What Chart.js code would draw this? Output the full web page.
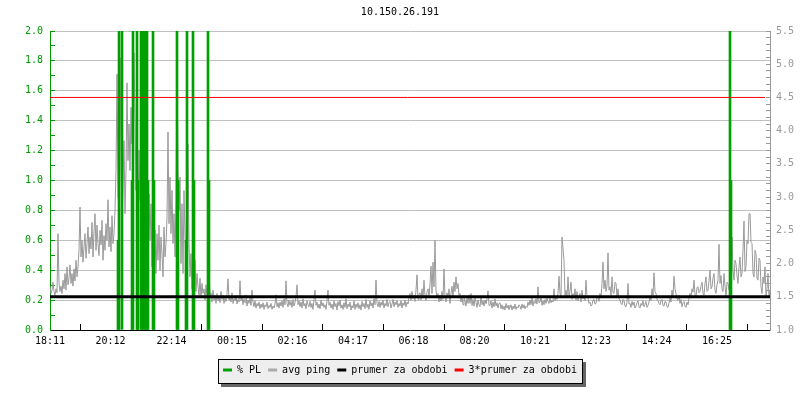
<!DOCTYPE html>
<html>
<head>
<meta charset="utf-8">
<script src="https://cdn.jsdelivr.net/npm/chart.js@4/dist/chart.umd.min.js"></script>
<style>
  html, body { margin: 0; padding: 0; background: #ffffff; }
  canvas { display: block; }
</style>
</head>
<body>
<canvas id="c" width="800" height="400"></canvas>
<script>
// ---------- data ----------
const chartTitle = '10.150.26.191';
const timeLabels = ['18:11','20:12','22:14','00:15','02:16','04:17','06:18','08:20','10:21','12:23','14:24','16:25'];
const spanMinutes = 1440;          // 24 h window starting at 18:11
const sampleStepMinutes = 2;       // one avg-ping sample every 2 minutes

// avg ping [ms], right axis
const avgPing = [
 1.65,1.55,1.60,1.72,1.58,1.52,1.62,1.56,2.45,1.70,
 1.58,1.66,1.55,1.75,1.62,1.85,1.60,1.95,1.68,1.78,
 1.98,1.70,1.85,1.66,1.92,1.74,2.05,1.80,1.95,2.20,
 2.85,2.10,2.35,2.02,2.25,2.45,2.08,2.30,2.55,2.15,
 2.40,2.22,2.62,2.10,2.48,2.75,2.20,2.58,2.30,2.12,
 2.50,2.28,2.65,2.05,2.42,2.20,2.60,2.35,2.96,2.25,
 2.55,2.18,2.72,2.30,2.45,2.80,3.40,4.85,3.00,2.90,
 5.10,3.60,2.60,3.20,3.85,2.75,3.40,4.72,3.55,4.10,
 3.40,4.35,3.80,4.50,5.17,4.20,3.10,4.45,2.80,3.70,
 2.95,3.55,2.40,3.20,5.00,3.00,2.60,3.45,2.20,3.05,
 2.35,2.90,1.95,2.65,2.20,2.50,1.85,2.45,2.05,2.58,
 1.90,2.40,2.15,1.80,2.55,2.10,2.30,2.70,3.98,2.60,
 3.30,2.45,3.10,2.30,2.75,2.10,2.95,5.00,3.40,2.80,
 3.30,2.00,2.90,1.85,3.10,2.40,2.05,3.40,3.80,2.30,
 1.80,2.15,1.62,1.95,1.70,2.05,1.58,1.85,1.65,1.52,
 1.78,1.48,1.70,1.55,1.62,1.45,1.68,1.50,1.58,1.93,
 1.48,1.56,1.42,1.60,1.45,1.52,1.40,1.55,1.44,1.50,
 1.41,1.58,1.46,1.52,1.40,1.48,1.43,1.55,1.77,1.45,
 1.50,1.42,1.56,1.40,1.47,1.44,1.52,1.39,1.46,1.42,
 1.74,1.44,1.50,1.38,1.47,1.41,1.53,1.36,1.45,1.40,
 1.48,1.37,1.60,1.42,1.35,1.44,1.33,1.40,1.36,1.42,
 1.32,1.39,1.34,1.41,1.31,1.38,1.35,1.42,1.32,1.37,
 1.34,1.40,1.31,1.36,1.33,1.39,1.53,1.35,1.41,1.33,
 1.42,1.36,1.44,1.34,1.47,1.38,1.74,1.40,1.35,1.45,
 1.37,1.43,1.34,1.46,1.36,1.41,1.50,1.68,1.38,1.44,
 1.35,1.42,1.33,1.47,1.36,1.40,1.32,1.44,1.38,1.35,
 1.43,1.34,1.40,1.31,1.46,1.60,1.37,1.42,1.33,1.39,
 1.32,1.45,1.36,1.41,1.34,1.38,1.31,1.44,1.60,1.37,
 1.42,1.33,1.39,1.31,1.44,1.35,1.40,1.30,1.43,1.36,
 1.45,1.33,1.38,1.31,1.41,1.34,1.47,1.32,1.39,1.35,
 1.42,1.30,1.37,1.33,1.44,1.31,1.39,1.34,1.41,1.32,
 1.38,1.30,1.43,1.35,1.40,1.32,1.46,1.34,1.39,1.31,
 1.44,1.36,1.41,1.33,1.47,1.38,1.75,1.40,1.35,1.43,
 1.34,1.42,1.37,1.45,1.33,1.40,1.36,1.46,1.35,1.41,
 1.43,1.33,1.39,1.46,1.35,1.42,1.38,1.44,1.34,1.40,
 1.36,1.44,1.33,1.41,1.37,1.45,1.35,1.42,1.39,1.50,
 1.55,1.44,1.58,1.47,1.52,1.43,1.60,1.83,1.46,1.54,
 1.56,1.45,1.62,1.48,1.75,1.50,1.44,1.58,1.62,1.49,
 1.70,1.96,1.55,2.02,1.65,2.35,1.60,1.48,1.55,1.42,
 1.52,1.44,1.58,1.46,1.92,1.50,1.42,1.56,1.48,1.62,
 1.40,1.55,1.66,1.50,1.72,1.58,1.80,1.62,1.70,1.52,
 1.55,1.42,1.50,1.38,1.52,1.44,1.36,1.48,1.40,1.53,
 1.40,1.55,1.37,1.46,1.36,1.48,1.42,1.34,1.45,1.38,
 1.35,1.50,1.38,1.44,1.36,1.45,1.40,1.47,1.59,1.37,
 1.37,1.44,1.33,1.42,1.35,1.47,1.36,1.41,1.33,1.40,
 1.41,1.32,1.38,1.31,1.36,1.30,1.40,1.33,1.37,1.31,
 1.34,1.38,1.30,1.36,1.32,1.39,1.31,1.35,1.33,1.38,
 1.36,1.31,1.39,1.33,1.38,1.32,1.36,1.34,1.42,1.37,
 1.45,1.38,1.48,1.36,1.43,1.40,1.47,1.39,1.65,1.41,
 1.42,1.50,1.37,1.44,1.38,1.46,1.40,1.48,1.43,1.40,
 1.48,1.41,1.45,1.42,1.62,1.44,1.50,1.46,1.55,1.81,
 1.55,1.48,2.40,2.23,2.05,1.52,1.60,1.48,1.80,1.50,
 1.58,1.72,1.46,1.55,1.48,1.62,1.45,1.58,1.44,1.52,
 1.55,1.42,1.60,1.47,1.52,1.44,1.75,1.50,1.48,1.40,
 1.42,1.36,1.38,1.45,1.46,1.39,1.40,1.48,1.50,1.43,
 1.55,1.48,1.70,2.02,1.62,1.75,1.58,1.66,2.16,1.60,
 1.65,1.52,1.80,1.56,1.55,1.72,1.70,1.50,1.62,1.47,
 1.45,1.40,1.38,1.46,1.44,1.36,1.35,1.42,1.70,1.39,
 1.40,1.34,1.43,1.37,1.42,1.33,1.36,1.41,1.44,1.35,
 1.33,1.40,1.37,1.44,1.35,1.39,1.43,1.34,1.37,1.42,
 1.50,1.44,1.62,1.52,1.86,1.58,1.55,1.46,1.45,1.40,
 1.38,1.44,1.46,1.37,1.36,1.43,1.42,1.35,1.34,1.40,
 1.48,1.42,1.60,1.50,1.81,1.62,1.55,1.47,1.45,1.52,
 1.40,1.46,1.35,1.41,1.43,1.36,1.34,1.42,1.38,1.47,
 1.55,1.48,1.62,1.57,1.75,1.53,1.50,1.64,1.65,1.56,
 1.58,1.66,1.72,1.55,1.52,1.70,1.80,1.58,1.60,1.74,
 1.90,1.62,1.65,1.78,1.85,1.60,1.55,1.68,1.75,2.29,
 1.70,1.82,1.62,1.58,1.85,1.66,1.50,1.72,1.70,1.60,
 1.60,1.78,2.40,1.90,1.75,2.05,2.00,1.82,1.70,1.95,
 2.10,1.80,1.85,2.20,2.64,1.88,1.95,2.35,2.30,2.75,
 2.75,2.32,2.30,1.85,1.80,2.20,2.15,1.78,1.75,2.08,
 2.05,1.65,1.55,1.80,1.70,1.95,1.50,1.62,1.85,1.48,
 1.60
];

// packet loss [%], left axis (minutes after 18:11)
const plMinutes = [136,138,144,164,166,174,176,182,184,186,190,192,194,196,206,208,254,256,272,274,286,288,316,318,1360,1362];
const plValues  = [0.6,2.0,2.0,1.0,2.0,2.0,1.0,2.0,0.4,2.0,2.0,0.4,2.0,1.0,2.0,1.0,2.0,1.0,0.6,2.0,2.0,1.0,2.0,1.0,2.0,1.0];

const prumer = 1.5;        // mean ping for period
const prumer3 = 4.5;       // 3 * mean
const redLineEndMinutes = 1430;

const legendNames = ['% PL', 'avg ping', 'prumer za obdobi', '3*prumer za obdobi'];

// ---------- helpers ----------
function labelToMinutes(lbl) {
  const [h, m] = lbl.split(':').map(Number);
  const [h0, m0] = timeLabels[0].split(':').map(Number);
  return ((h * 60 + m) - (h0 * 60 + m0) + 1440) % 1440;
}
const tickMinutes = timeLabels.map(labelToMinutes);

const FONT = { family: "'DejaVu Sans Mono', monospace", size: 10, weight: 'normal' };
const GREEN = '#009900';
const BAR_GREEN = '#00a000';
const GRAY = '#999999';
const GRID = '#c0c0c0';

const legendFrame = {
  id: 'legendFrame',
  beforeDraw(chart) {
    const lg = chart.legend;
    if (!lg || !lg.legendHitBoxes || !lg.legendHitBoxes.length) return;
    const hb = lg.legendHitBoxes;
    const first = hb[0], last = hb[hb.length - 1];
    const l = Math.round(first.left - 5), r = Math.round(last.left + last.width + 5);
    const t = Math.round(first.top - 6), b = Math.round(first.top + first.height + 8);
    const ctx = chart.ctx;
    ctx.save();
    ctx.fillStyle = '#666666';
    ctx.fillRect(l + 3, t + 3, r - l + 1, b - t + 1);
    ctx.fillStyle = '#eeeeee';
    ctx.fillRect(l, t, r - l, b - t);
    ctx.strokeStyle = '#000000';
    ctx.lineWidth = 1;
    ctx.strokeRect(l + 0.5, t + 0.5, r - l, b - t);
    ctx.restore();
  }
};

const datasets = [
  {
    type: 'bar',
    label: legendNames[0],
    data: plMinutes.map((m, i) => ({ x: m, y: plValues[i] })),
    xAxisID: 'x', yAxisID: 'y',
    backgroundColor: BAR_GREEN,
    borderWidth: 0,
    barThickness: 2,
    grouped: false,
    order: 2,
    legendColor: BAR_GREEN
  },
  {
    type: 'line',
    label: legendNames[1],
    data: avgPing.map((v, i) => ({ x: i * sampleStepMinutes, y: v })),
    xAxisID: 'x', yAxisID: 'y1',
    borderColor: GRAY,
    backgroundColor: GRAY,
    borderWidth: 1,
    pointRadius: 0,
    tension: 0,
    order: 3,
    legendColor: '#aaaaaa'
  },
  {
    type: 'line',
    label: legendNames[2],
    data: [{ x: 0, y: prumer }, { x: spanMinutes, y: prumer }],
    xAxisID: 'x', yAxisID: 'y1',
    borderColor: '#000000',
    backgroundColor: '#000000',
    borderWidth: 3,
    pointRadius: 0,
    order: 1,
    legendColor: '#000000'
  },
  {
    type: 'line',
    label: legendNames[3],
    data: [{ x: 0, y: prumer3 }, { x: redLineEndMinutes, y: prumer3 }],
    xAxisID: 'x', yAxisID: 'y1',
    borderColor: '#ff0000',
    backgroundColor: '#ff0000',
    borderWidth: 1,
    pointRadius: 0,
    order: 0,
    legendColor: '#ff0000'
  }
];

new Chart(document.getElementById('c'), {
  type: 'line',
  data: { datasets },
  plugins: [legendFrame],
  options: {
    responsive: false,
    animation: false,
    devicePixelRatio: 1,
    layout: { padding: { left: 0, right: 0, top: 0, bottom: 15 } },
    plugins: {
      title: {
        display: true,
        text: chartTitle,
        color: '#000000',
        font: FONT,
        padding: { top: 6, bottom: 13 }
      },
      legend: {
        display: true,
        position: 'bottom',
        labels: {
          font: FONT,
          color: '#000000',
          boxWidth: 9,
          boxHeight: 3,
          padding: 7,
          generateLabels: (chart) => chart.data.datasets.map((ds, i) => ({
            text: ds.label,
            fillStyle: ds.legendColor,
            strokeStyle: ds.legendColor,
            lineWidth: 0,
            hidden: false,
            datasetIndex: i,
            fontColor: '#000000'
          }))
        }
      },
      tooltip: { enabled: false }
    },
    scales: {
      x: {
        type: 'linear',
        position: 'bottom',
        min: 0,
        max: spanMinutes,
        offset: false,
        afterBuildTicks: (s) => { s.ticks = tickMinutes.map(v => ({ value: v })); },
        afterFit: (s) => { s.height = 28; },
        ticks: {
          autoSkip: false,
          maxRotation: 0,
          color: '#000000',
          font: FONT,
          padding: 11,
          callback: (v, i) => timeLabels[i]
        },
        grid: {
          drawOnChartArea: false,
          drawTicks: true,
          tickLength: -6,
          tickColor: '#000000',
          color: '#000000'
        },
        border: { color: '#000000', width: 1 }
      },
      y: {
        type: 'linear',
        position: 'left',
        min: 0,
        max: 2,
        afterFit: (s) => { s.width = 50; },
        ticks: {
          stepSize: 0.1,
          autoSkip: false,
          maxTicksLimit: 100,
          color: GREEN,
          font: FONT,
          padding: 12,
          callback: (v) => (Math.round(v * 10) % 2 === 0 ? Number(v).toFixed(1) : '')
        },
        grid: {
          drawTicks: true,
          tickLength: -5,
          tickColor: GREEN,
          color: (ctx) => {
            const k = Math.round(ctx.tick.value * 10);
            return (k % 2 === 0 && k !== 0) ? GRID : 'rgba(0,0,0,0)';
          }
        },
        border: { color: GREEN, width: 1 }
      },
      y1: {
        type: 'linear',
        position: 'right',
        min: 1,
        max: 5.5,
        afterFit: (s) => { s.width = 30; },
        ticks: {
          stepSize: 0.1,
          autoSkip: false,
          maxTicksLimit: 100,
          color: GRAY,
          font: FONT,
          padding: 10,
          callback: (v) => (Math.round(v * 10) % 5 === 0 ? Number(v).toFixed(1) : '')
        },
        grid: {
          drawOnChartArea: false,
          drawTicks: true,
          tickLength: -4,
          tickColor: GRAY,
          color: GRAY
        },
        border: { color: GRAY, width: 1 }
      }
    }
  }
});
</script>
</body>
</html>
